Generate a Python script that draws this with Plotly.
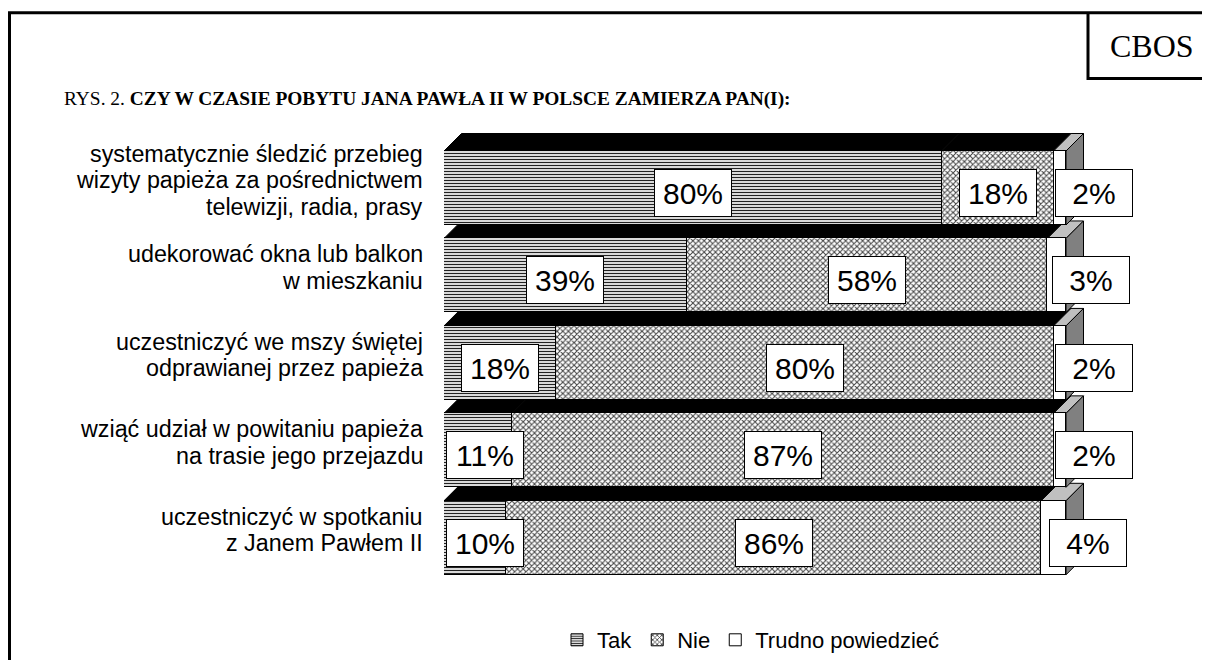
import plotly.graph_objects as go

# ---------------- data ----------------
categories = [
    ["systematycznie śledzić przebieg", "wizyty papieża za pośrednictwem", "telewizji, radia, prasy"],
    ["udekorować okna lub balkon", "w mieszkaniu"],
    ["uczestniczyć we mszy świętej", "odprawianej przez papieża"],
    ["wziąć udział w powitaniu papieża", "na trasie jego przejazdu"],
    ["uczestniczyć w spotkaniu", "z Janem Pawłem II"],
]
tak = [80, 39, 18, 11, 10]
nie = [18, 58, 80, 87, 86]
trudno = [2, 3, 2, 2, 4]
series_names = ["Tak", "Nie", "Trudno powiedzieć"]
title_prefix = "RYS. 2. "
title_main = "CZY W CZASIE POBYTU JANA PAWŁA II W POLSCE ZAMIERZA PAN(I):"
source_label = "CBOS"

# ---------------- layout constants ----------------
OFF = 8                      # page body margin
W, H = 1210 - OFF, 690
L, T = 444 - OFF, 122 - OFF
PW, PH = 647, 460
PX_PER_PCT = 6.22
X_MAX = PW / PX_PER_PCT
FIRST_CENTER_REL = 66        # first bar centre below plot top (px)
PITCH = 87.45
Y_LOW = -FIRST_CENTER_REL / PITCH
Y_HIGH = Y_LOW + PH / PITCH
BAR_W = 0.846
DEPTH_PX = 17.5
DX = DEPTH_PX / PX_PER_PCT
DY = DEPTH_PX / PITCH

SANS = "Liberation Sans, Arial, sans-serif"
SERIF = "Liberation Serif, Times New Roman, serif"

n = len(tak)
pos = list(range(n))
series = [tak, nie, trudno]


def pxx(px):
    return (px - OFF - L) / PW


def pxy(py):
    return 1 - (py - OFF - T) / PH


fig = go.Figure()

patterns = [
    dict(shape="-", size=3, solidity=0.45, fgcolor="#222222", bgcolor="white", fillmode="replace"),
    dict(shape="x", size=4, solidity=0.45, fgcolor="#444444", bgcolor="white", fillmode="replace"),
    dict(shape="", bgcolor="white"),
]
for name, vals, pat in zip(series_names, series, patterns):
    fig.add_trace(go.Bar(
        x=vals, y=pos, orientation="h", name=name, width=BAR_W,
        marker=dict(color="white", pattern=pat, line=dict(color="black", width=1)),
        hoverinfo="skip",
    ))

# ---------------- 3D faces (drawn bottom bar first) ----------------
shapes = []
for i in reversed(range(n)):
    y_top = pos[i] - BAR_W / 2
    y_bot = pos[i] + BAR_W / 2
    start = 0
    for k, vals in enumerate(series):
        x0 = start
        x1 = start + vals[i]
        start = x1
        col = "black" if k < 2 else "#c0c0c0"
        path = (f"M {x0},{y_top} L {x1},{y_top} L {x1 + DX},{y_top - DY} "
                f"L {x0 + DX},{y_top - DY} Z")
        shapes.append(dict(type="path", path=path, xref="x", yref="y", layer="below",
                           fillcolor=col, line=dict(color="black", width=1)))
    xe = start
    path = (f"M {xe},{y_top} L {xe + DX},{y_top - DY} L {xe + DX},{y_bot - DY} "
            f"L {xe},{y_bot} Z")
    shapes.append(dict(type="path", path=path, xref="x", yref="y", layer="below",
                       fillcolor="#808080", line=dict(color="black", width=1)))

# frame and source box
shapes.append(dict(type="rect", xref="paper", yref="paper",
                   x0=pxx(9.5), x1=pxx(1230), y0=pxy(12.8), y1=pxy(720),
                   line=dict(color="black", width=3), fillcolor="rgba(0,0,0,0)"))
shapes.append(dict(type="path", xref="paper", yref="paper",
                   path=f"M {pxx(1088)},{pxy(12.8)} L {pxx(1088)},{pxy(78.5)} L {pxx(1230)},{pxy(78.5)}",
                   line=dict(color="black", width=3)))

# ---------------- annotations ----------------
ann = []
BOX_HALF_PX = 41
for i in range(n):
    start = 0
    for k, vals in enumerate(series):
        v = vals[i]
        c = start + v / 2
        start += v
        xshift = 0
        if k == 0:
            c = max(c, BOX_HALF_PX / PX_PER_PCT)
        if k == 2:
            xshift = 34
        ann.append(dict(x=c, y=pos[i], xref="x", yref="y", text=f"{v}%",
                        showarrow=False, xshift=xshift, yshift=-5,
                        font=dict(family=SANS, size=30, color="black"),
                        bgcolor="white", bordercolor="black", borderwidth=1,
                        borderpad=3, width=70, height=40))
    # category labels, one annotation per line
    lines = categories[i]
    m = len(lines)
    for j, line in enumerate(lines):
        off = (j - (m - 1) / 2) * 26.5
        ann.append(dict(x=0, y=pos[i], xref="x", yref="y", text=line,
                        showarrow=False, xanchor="right", yanchor="middle",
                        xshift=-19, yshift=8 - off,
                        font=dict(family=SANS, size=23.3, color="black")))

ann.append(dict(x=pxx(62), y=pxy(99), xref="paper", yref="paper", xanchor="left",
                yanchor="middle", showarrow=False,
                text=f"{title_prefix}<b>{title_main}</b>",
                font=dict(family=SERIF, size=19.4, color="black")))
ann.append(dict(x=pxx(1152), y=pxy(46), xref="paper", yref="paper", xanchor="center",
                yanchor="middle", showarrow=False, text=source_label,
                font=dict(family=SERIF, size=32, color="black")))

fig.update_layout(
    width=W, height=H,
    margin=dict(l=L, r=W - L - PW, t=T, b=H - T - PH, pad=0, autoexpand=False),
    paper_bgcolor="white", plot_bgcolor="white",
    barmode="stack", bargap=0,
    showlegend=True,
    legend=dict(orientation="h", x=pxx(751), y=pxy(640), xanchor="center", yanchor="middle",
                traceorder="normal", font=dict(family=SANS, size=22, color="black"),
                bgcolor="rgba(0,0,0,0)"),
    xaxis=dict(range=[0, X_MAX], showgrid=False, zeroline=False, showticklabels=False,
               ticks="", showline=False, fixedrange=True),
    yaxis=dict(range=[Y_HIGH, Y_LOW], showgrid=False, zeroline=False, showticklabels=False,
               ticks="", showline=False, fixedrange=True),
    shapes=shapes,
    annotations=ann,
)

fig.write_html("out.html")
